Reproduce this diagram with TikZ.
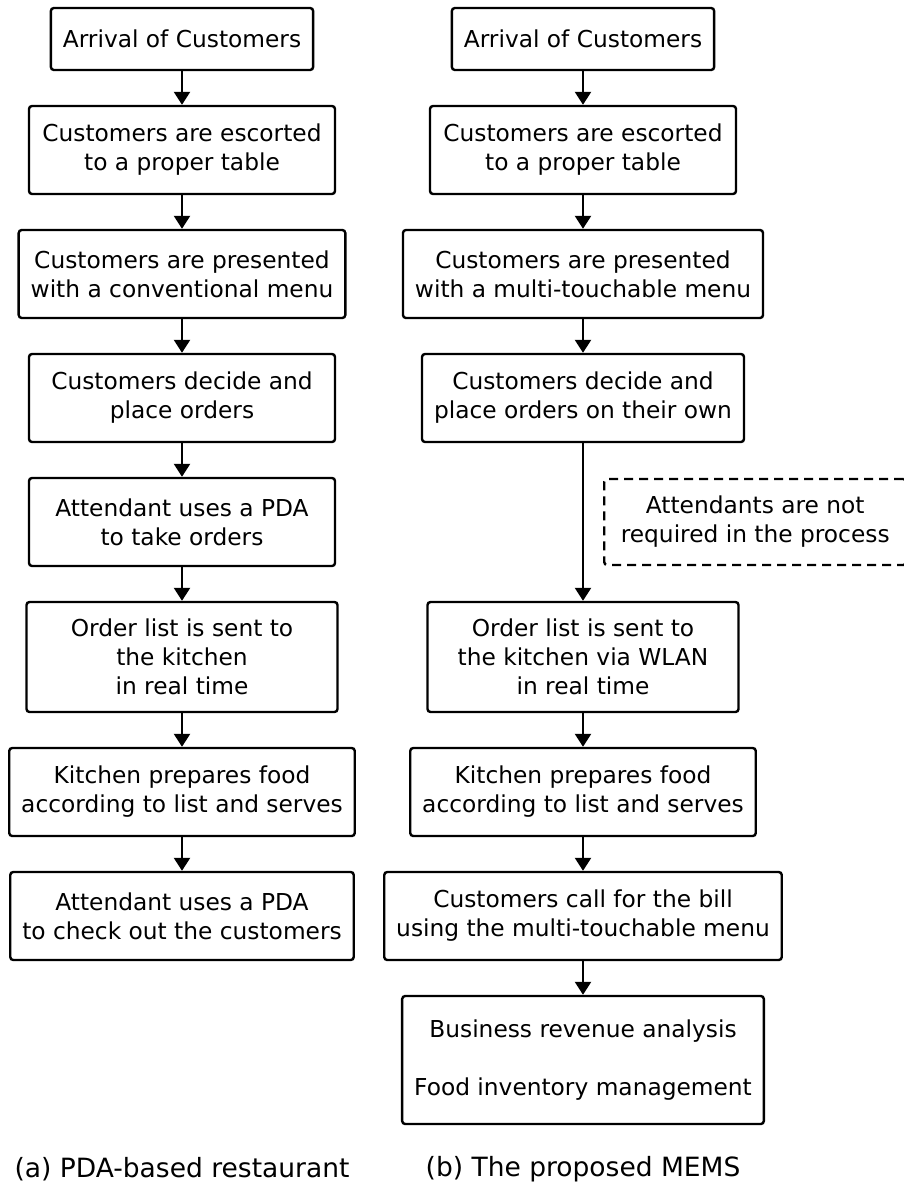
\documentclass[tikz,border=0pt]{standalone}
\usepackage{fontspec}
\setmainfont{DejaVu Sans}
\usepackage{tikz}
\usetikzlibrary{positioning}
\usetikzlibrary{arrows.meta}
\tikzstyle{stage}=[draw, rounded corners=3pt, align=center, inner xsep=12pt, inner ysep=0pt, minimum width=306pt, minimum height=88pt, font=\fontsize{23.3pt}{29pt}\selectfont]
\tikzstyle{single}=[stage, minimum width=0pt, minimum height=62pt]
\tikzstyle{triple}=[stage, minimum width=311pt, minimum height=110pt]
\tikzstyle{notebox}=[stage, dash pattern=on 9pt off 6pt, minimum width=302pt, minimum height=86pt]
\tikzstyle{subcap}=[inner sep=0pt, font=\fontsize{26.5pt}{32pt}\selectfont]

\begin{document}
\begin{tikzpicture}[x=1pt,y=-1pt,node distance=33.6pt,line width=2.4pt,>={Triangle[length=13pt,width=16pt]}]
    \useasboundingbox (0,0) rectangle (903,1185);
    % (a) PDA-based restaurant
    \node [single] (a1) at (182,39) {Arrival of Customers};
    \node [stage] (a2) [below=of a1] {Customers are escorted\\to a proper table};
    \node [stage] (a3) [below=of a2] {Customers are presented\\with a conventional menu};
    \node [stage] (a4) [below=of a3] {Customers decide and\\place orders};
    \node [stage] (a5) [below=of a4] {Attendant uses a PDA\\to take orders};
    \node [triple] (a6) [below=of a5] {Order list is sent to\\the kitchen\\in real time};
    \node [stage] (a7) [below=of a6] {Kitchen prepares food\\according to list and serves};
    \node [stage] (a8) [below=of a7] {Attendant uses a PDA\\to check out the customers};
    \path[->] (a1) edge (a2) (a2) edge (a3) (a3) edge (a4) (a4) edge (a5);
    \path[->] (a5) edge (a6) (a6) edge (a7) (a7) edge (a8);

    % (b) the proposed MEMS
    \node [single] (b1) at (583,39) {Arrival of Customers};
    \node [stage] (b2) [below=of b1] {Customers are escorted\\to a proper table};
    \node [stage] (b3) [below=of b2] {Customers are presented\\with a multi-touchable menu};
    \node [stage] (b4) [below=of b3] {Customers decide and\\place orders on their own};
    \node [triple] (b5) [below=157.6pt of b4] {Order list is sent to\\the kitchen via WLAN\\in real time};
    \node [stage] (b6) [below=of b5] {Kitchen prepares food\\according to list and serves};
    \node [stage] (b7) [below=of b6] {Customers call for the bill\\using the multi-touchable menu};
    \node [stage, minimum height=128pt] (b8) [below=of b7] {Business revenue analysis\\[29pt]Food inventory management};
    \draw[->] (b4) -- coordinate[midway] (mid) (b5);
    \node [notebox] (note) [right=20pt of mid] {Attendants are not\\required in the process};
    \path[->] (b1) edge (b2) (b2) edge (b3) (b3) edge (b4);
    \path[->] (b5) edge (b6) (b6) edge (b7) (b7) edge (b8);

    \node [subcap] (capb) [below=30pt of b8] {(b) The proposed MEMS};
    \node [subcap] (capa) at (a1 |- capb) {(a) PDA-based restaurant};
\end{tikzpicture}
\end{document}
